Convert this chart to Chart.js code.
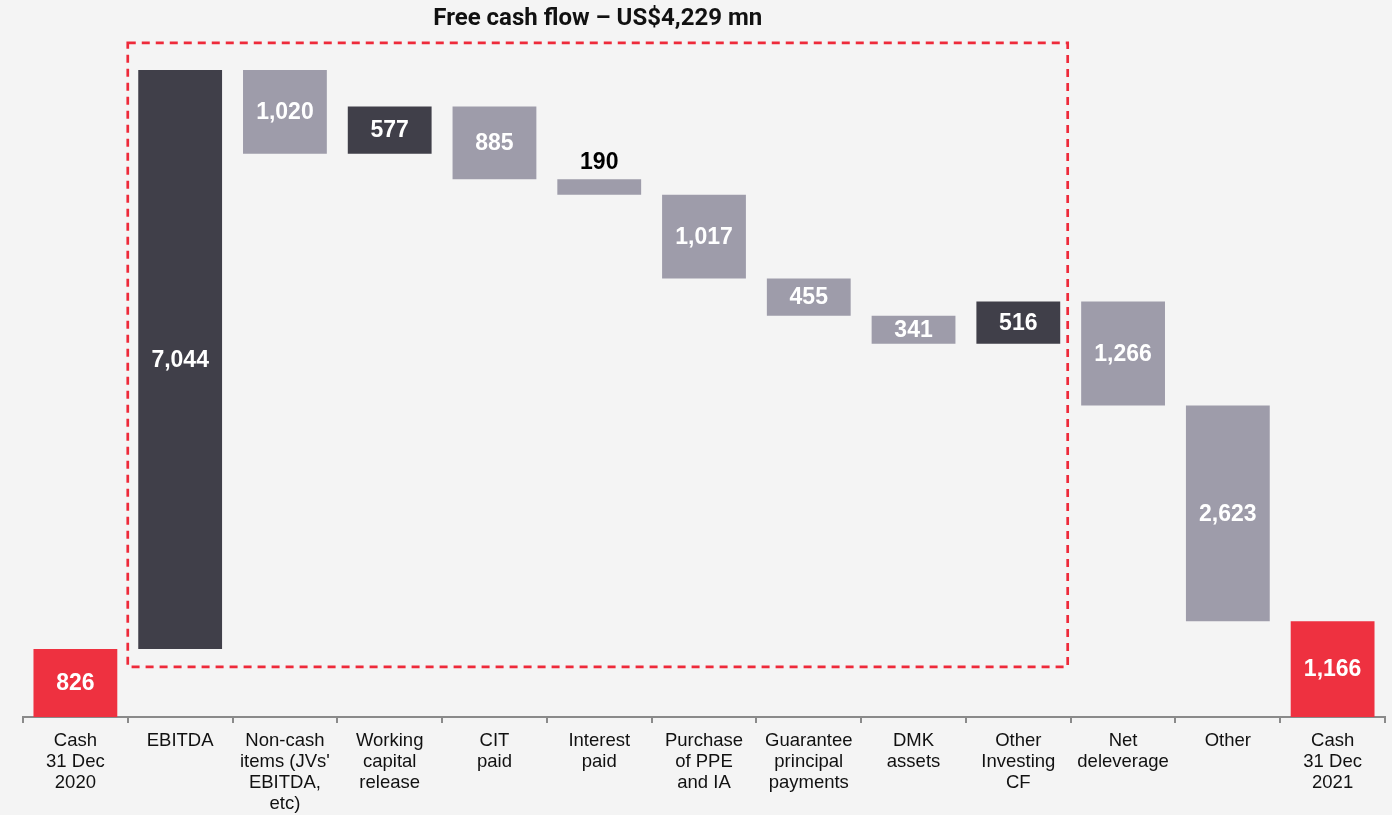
<!DOCTYPE html>
<html>
<head>
<meta charset="utf-8">
<script src="https://cdn.jsdelivr.net/npm/chart.js@4.4.1/dist/chart.umd.min.js"></script>
<style>
html,body{margin:0;padding:0;background:#f4f4f4;}
#wrap{width:1392px;height:815px;position:relative;}
</style>
</head>
<body>
<div id="wrap"><canvas id="c" width="1392" height="815"></canvas></div>
<script>
const categories = [
  ["Cash","31 Dec","2020"],
  ["EBITDA"],
  ["Non-cash","items (JVs'","EBITDA,","etc)"],
  ["Working","capital","release"],
  ["CIT","paid"],
  ["Interest","paid"],
  ["Purchase","of PPE","and IA"],
  ["Guarantee","principal","payments"],
  ["DMK","assets"],
  ["Other","Investing","CF"],
  ["Net","deleverage"],
  ["Other"],
  ["Cash","31 Dec","2021"]
];
const deltas = [826, 7044, -1020, 577, -885, -190, -1017, -455, -341, 516, -1266, -2623, 1166];
const isTotal = [true, false, false, false, false, false, false, false, false, false, false, false, true];
const valueLabels = ["826","7,044","1,020","577","885","190","1,017","455","341","516","1,266","2,623","1,166"];
const labelAbove = [false,false,false,false,false,true,false,false,false,false,false,false,false];
const titleText = "Free cash flow \u2013 US$4,229 mn";
const boxFirst = 1, boxLast = 9;     // categories enclosed in dashed box
const boxBottomValue = 610, boxTopValue = 8200;

const RED = "#ee3140", DARK = "#403f49", GREY = "#9e9caa";

const ranges = [];
const colors = [];
let run = 0;
deltas.forEach((d, i) => {
  if (isTotal[i]) { ranges.push([0, d]); run = d; colors.push(RED); }
  else { const s = run; run += d; ranges.push([s, run]); colors.push(d >= 0 ? DARK : GREY); }
});

const overlay = {
  id: 'overlay',
  afterDatasetsDraw(chart) {
    const ctx = chart.ctx;
    const meta = chart.getDatasetMeta(0);
    const x = chart.scales.x, y = chart.scales.y;
    ctx.save();
    // value labels
    meta.data.forEach((bar, i) => {
      const p = bar.getProps(['x','y','base'], true);
      const top = Math.min(p.y, p.base), bot = Math.max(p.y, p.base);
      ctx.font = "bold 23px 'Liberation Sans', Arial, sans-serif";
      ctx.textAlign = 'center';
      ctx.textBaseline = 'middle';
      if (labelAbove[i]) {
        ctx.fillStyle = '#000';
        ctx.fillText(valueLabels[i], p.x, top - 17);
      } else {
        ctx.fillStyle = '#fff';
        ctx.fillText(valueLabels[i], p.x, (top + bot) / 2 + 1);
      }
    });
    // dashed box
    const half = (x.getPixelForValue(1) - x.getPixelForValue(0)) / 2;
    const left = x.getPixelForValue(boxFirst) - half;
    const right = x.getPixelForValue(boxLast) + half - 3;
    const topY = y.getPixelForValue(boxTopValue);
    const botY = y.getPixelForValue(boxBottomValue);
    ctx.strokeStyle = "#ee2a3a";
    ctx.lineWidth = 2.7;
    ctx.setLineDash([8, 6]);
    ctx.strokeRect(left, topY, right - left, botY - topY);
    ctx.setLineDash([]);
    // title
    ctx.fillStyle = '#111';
    ctx.font = "bold 24px Roboto, 'Liberation Sans', Arial, sans-serif";
    ctx.textAlign = 'center';
    ctx.textBaseline = 'middle';
    ctx.fillText(titleText, (left + right) / 2, 19);
    ctx.restore();
  }
};

new Chart(document.getElementById('c'), {
  type: 'bar',
  data: {
    labels: categories,
    datasets: [{
      data: ranges,
      backgroundColor: colors,
      borderWidth: 0,
      barPercentage: 0.8,
      categoryPercentage: 1.0
    }]
  },
  options: {
    responsive: false,
    animation: false,
    layout: { padding: { left: 23, right: 7, top: 10, bottom: 0 } },
    plugins: { legend: { display: false }, tooltip: { enabled: false } },
    scales: {
      x: {
        offset: true,
        afterFit(scale) { scale.height = 98; },
        grid: { offset: true, drawOnChartArea: false, drawTicks: true, tickLength: 6, color: '#8a8a8a', lineWidth: 2 },
        border: { display: true, color: '#8a8a8a', width: 2 },
        ticks: {
          color: '#111',
          font: { family: "'Liberation Sans', Arial, sans-serif", size: 18.5, lineHeight: 1.135 },
          maxRotation: 0, autoSkip: false, padding: 7
        }
      },
      y: {
        display: false,
        min: 0, max: 8600
      }
    }
  },
  plugins: [overlay]
});
</script>
</body>
</html>
